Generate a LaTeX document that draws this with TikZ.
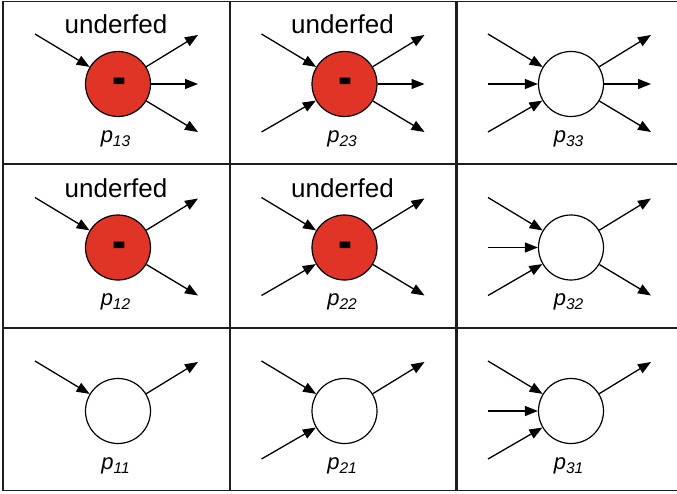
\documentclass[tikz,border=0pt]{standalone}
\usepackage{fontspec}
\setmainfont{Liberation Sans}
\usetikzlibrary{arrows.meta}
\definecolor{fedred}{RGB}{224,52,38}
\definecolor{gridc}{RGB}{30,30,30}
\newcommand{\plabel}[1]{\fontsize{22}{22}\selectfont\itshape p\raisebox{-4pt}{\fontsize{15.5}{15.5}\selectfont #1}}
\newcommand{\mkcell}[4]{%
  \node[pcirc,#4] (c#1) at (#2,#3) {};
  \node[plbl] (l#1) at (#2-2.5,#3+58) {\plabel{#1}};
}
\newcommand{\inarr}[3]{%
  \coordinate (s#1#2) at ([shift={(-83,#3)}]c#1.center);
  \draw[parr] (s#1#2) -- (c#1);
}
\newcommand{\outarr}[3]{%
  \coordinate (e#1#2) at ([shift={(80,#3)}]c#1.center);
  \draw[parr] (c#1) -- (e#1#2);
}
\newcommand{\ufmark}[3]{%
  \node[uf] (u#1) at (#2,#3) {underfed};
  \node[minus] (m#1) at ([shift={(1,3)}]c#1.center) {\scalebox{1}[1.3]{-}};
}
\begin{document}
\begin{tikzpicture}[x=1pt,y=-1pt,
  pcirc/.style={circle,draw,line width=1.2pt,minimum size=65pt,inner sep=0pt},
  redfill/.style={fill=fedred},
  plain/.style={fill=white},
  plbl/.style={anchor=base,inner sep=0pt},
  uf/.style={anchor=base,inner sep=0pt,font=\fontsize{26}{26}\selectfont},
  minus/.style={inner sep=0pt,font=\fontsize{42}{42}\selectfont\bfseries},
  parr/.style={line width=1.3pt,-{Triangle[length=13pt,width=10pt]}},
  outer/.style={draw=gridc,line width=1.8pt},
  inner/.style={draw=gridc,line width=2.4pt}]
\useasboundingbox (0,0) rectangle (677,493);
% grid
\draw[outer] (677,1.5) -- (3,1.5) -- (3,490.5) -- (677,490.5);
\draw[inner] (3,163.7) -- (677,163.7);
\draw[inner] (3,327.7) -- (677,327.7);
\draw[inner] (230,1.5) -- (230,490.5);
\draw[inner] (456.5,1.5) -- (456.5,490.5);
% row 1
\mkcell{13}{118}{84}{redfill}
\ufmark{13}{116}{33}
\inarr{13}{a}{-50}
\outarr{13}{a}{-49}\outarr{13}{b}{0}\outarr{13}{c}{48}
\mkcell{23}{344.5}{84}{redfill}
\ufmark{23}{342.5}{33}
\inarr{23}{a}{-50}\inarr{23}{c}{48}
\outarr{23}{a}{-49}\outarr{23}{b}{0}\outarr{23}{c}{48}
\mkcell{33}{571}{84}{plain}
\inarr{33}{a}{-50}\inarr{33}{b}{0}\inarr{33}{c}{48}
\outarr{33}{a}{-49}\outarr{33}{b}{0}\outarr{33}{c}{48}
% row 2
\mkcell{12}{118}{247.5}{redfill}
\ufmark{12}{116}{197}
\inarr{12}{a}{-50}
\outarr{12}{a}{-49}\outarr{12}{c}{48}
\mkcell{22}{344.5}{247.5}{redfill}
\ufmark{22}{342.5}{197}
\inarr{22}{a}{-50}\inarr{22}{c}{48}
\outarr{22}{a}{-49}\outarr{22}{c}{48}
\mkcell{32}{571}{247.5}{plain}
\inarr{32}{a}{-50}\inarr{32}{b}{0}\inarr{32}{c}{48}
\outarr{32}{a}{-49}\outarr{32}{c}{48}
% row 3
\mkcell{11}{118}{411}{plain}
\inarr{11}{a}{-50}
\outarr{11}{a}{-49}
\mkcell{21}{344.5}{411}{plain}
\inarr{21}{a}{-50}\inarr{21}{c}{48}
\outarr{21}{a}{-49}
\mkcell{31}{571}{411}{plain}
\inarr{31}{a}{-50}\inarr{31}{b}{0}\inarr{31}{c}{48}
\outarr{31}{a}{-49}
\end{tikzpicture}
\end{document}
